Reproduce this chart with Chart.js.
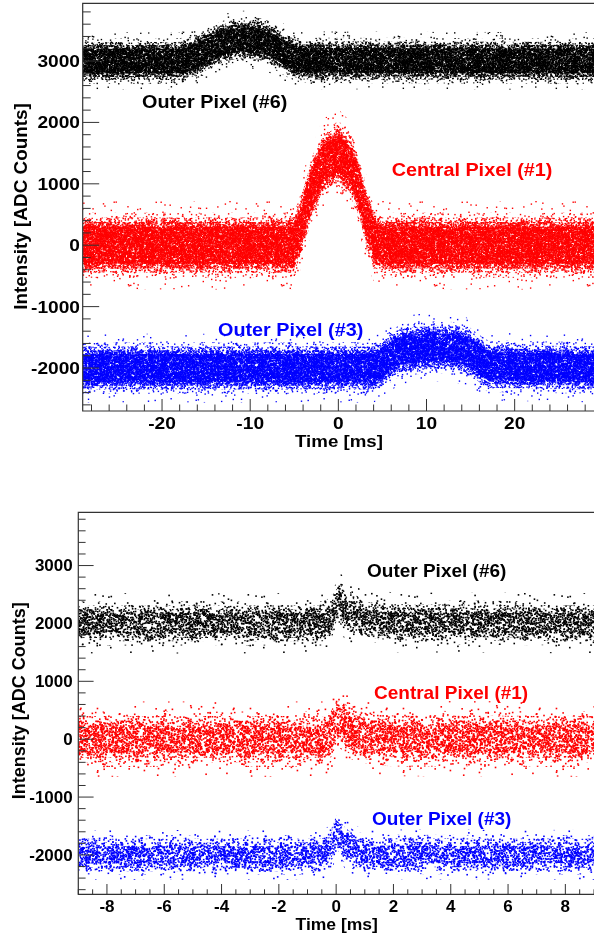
<!DOCTYPE html>
<html>
<head>
<meta charset="utf-8">
<script src="https://cdn.jsdelivr.net/npm/chart.js@4.4.1/dist/chart.umd.min.js"></script>
<style>
  html, body { margin: 0; padding: 0; background: #fff; overflow: hidden; }
  canvas { display: block; }
</style>
</head>
<body>
<canvas id="Top_Chart" width="594" height="467"></canvas>
<canvas id="Bottom_Chart" width="594" height="467"></canvas>
<script>
// ---- long window, time in ms, intensity in ADC counts (band centre per trace) ----
const Top_Time_6 = [-29, -18, -17, -16, -15, -14, -13, -12, -11, -10, -9, -8, -7, -6, -5, -4, 29];
const Top_Level_6 = [3000, 3000, 3030, 3090, 3160, 3230, 3290, 3330, 3350, 3350, 3330, 3290, 3210, 3120, 3050, 3010, 3000];
const Top_Time_1 = [-29, -5, -4.4, -3.3, -1.8, -0.5, 0, 0.5, 1.5, 2.5, 3.2, 4.2, 5, 29];
const Top_Level_1 = [0, 0, 250, 800, 1330, 1440, 1500, 1420, 1280, 850, 400, 80, 0, 0];
const Top_Time_3 = [-29, 4, 5, 6, 7, 9, 11, 13, 14, 15, 16, 17, 29];
const Top_Level_3 = [-2000, -2000, -1930, -1800, -1720, -1680, -1660, -1670, -1700, -1770, -1880, -1970, -2000];
// half widths of the nested speckle layers, densest first
const Top_Spread_6 = [200, 260, 310, 370, 470];
const Top_Spread_1 = [300, 380, 450, 530, 720];
const Top_Spread_3 = [230, 290, 350, 420, 560];

// ---- short window ----
const Bot_Time_6 = [-9, -0.4, -0.2, 0, 0.1, 0.2, 0.4, 0.7, 1.2, 2, 9];
const Bot_Level_6 = [2000, 2000, 2080, 2330, 2400, 2320, 2190, 2100, 2050, 2020, 2000];
const Bot_Time_1 = [-9, -0.4, -0.2, 0, 0.1, 0.2, 0.4, 0.7, 1.2, 2, 9];
const Bot_Level_1 = [0, 0, 60, 280, 350, 280, 170, 90, 40, 10, 0];
const Bot_Time_3 = [-9, -0.5, -0.3, -0.1, 0, 0.1, 0.3, 0.5, 0.8, 1.2, 9];
const Bot_Level_3 = [-2000, -2000, -1950, -1760, -1600, -1670, -1800, -1880, -1950, -1990, -2000];
const Bot_Spread_6 = [170, 250, 310, 380, 520];
const Bot_Spread_1 = [230, 320, 400, 480, 650];
const Bot_Spread_3 = [150, 220, 280, 340, 430];

// speckle density of each layer
const Top_Coverage = [0.75, 0.55, 0.3, 0.1, 0.03];
const Bot_Coverage = [0.33, 0.25, 0.15, 0.07, 0.025];

// axis ticks
const Top_X_Ticks = [-20, -10, 0, 10, 20];
const Bot_X_Ticks = [-8, -6, -4, -2, 0, 2, 4, 6, 8];
const Y_Ticks = [-2000, -1000, 0, 1000, 2000, 3000];

const Label_Font = '"Liberation Sans", Arial, Helvetica, sans-serif';

// integer mixer for the speckle texture
function Hash01(N) {
    let H = N | 0;
    H ^= H >>> 16;
    H = Math.imul(H, 0x85ebca6b);
    H ^= H >>> 13;
    H = Math.imul(H, 0xc2b2ae35);
    H ^= H >>> 16;
    return (H >>> 0) / 4294967296;
}

// speckle fill used inside each band; tile size varies per layer so repeats don't line up
function Make_Grain(Color, Coverage, Dot, Seed, K) {
    const W = 97 + K * 14, H = 89 + K * 10;
    const Tile = document.createElement("canvas");
    Tile.width = W; Tile.height = H;
    const C = Tile.getContext("2d");
    C.fillStyle = Color;
    const N = Math.round(-Math.log(1 - Coverage) * W * H / (Dot * Dot));
    const Base = Seed * 100003;
    for (let I = 0; I < N; I++) {
        const X = Hash01(Base + 2 * I) * W;
        const Y = Hash01(Base + 2 * I + 1) * H;
        C.fillRect(X, Y, Dot, Dot);
        if (X + Dot > W) C.fillRect(X - W, Y, Dot, Dot);
        if (Y + Dot > H) C.fillRect(X, Y - H, Dot, Dot);
    }
    return C.createPattern(Tile, "repeat");
}

// one upper/lower pair per layer; the lower line fills up to the upper one
function Band_Sets(Time, Level, Spread, Color, Coverages, Dot, Seed) {
    const Sets = [];
    Spread.forEach(function (Half, K) {
        Sets.push({
            data: Time.map(function (T, I) { return { x: T, y: Level[I] + Half }; }),
            borderWidth: 0, borderColor: "rgba(0,0,0,0)", pointRadius: 0, fill: false
        });
        Sets.push({
            data: Time.map(function (T, I) { return { x: T, y: Level[I] - Half }; }),
            borderWidth: 0, borderColor: "rgba(0,0,0,0)", pointRadius: 0, fill: "-1",
            backgroundColor: Make_Grain(Color, Coverages[K], Dot, Seed + K * 31, K)
        });
    });
    return Sets;
}

function Draw_Text(Ctx, Str, X, Y, O) {
    Ctx.save();
    Ctx.translate(X, Y);
    if (O.rot) Ctx.rotate(O.rot);
    Ctx.scale(O.sx || 1, 1);
    Ctx.font = "bold " + O.size + "px " + Label_Font;
    Ctx.textAlign = O.align || "left";
    Ctx.textBaseline = "alphabetic";
    Ctx.fillStyle = O.color || "#000";
    Ctx.fillText(Str, 0, 0);
    Ctx.restore();
}

// ROOT-like frame: inward ticks on left and bottom, labels, titles, trace names
const Frame_Plugin = {
    id: "frame",
    afterDraw: function (Chart_Obj, Args, P) {
        const Ctx = Chart_Obj.ctx;
        const A = Chart_Obj.chartArea;
        const Sx = Chart_Obj.scales.x, Sy = Chart_Obj.scales.y;
        Ctx.save();
        Ctx.strokeStyle = "#333";
        Ctx.lineWidth = 1.2;
        Ctx.beginPath();
        Ctx.moveTo(A.right, A.top); Ctx.lineTo(A.left, A.top);
        Ctx.lineTo(A.left, A.bottom); Ctx.lineTo(A.right, A.bottom);
        Ctx.stroke();

        Ctx.lineWidth = 1;
        Ctx.beginPath();
        for (let V = Math.ceil(Sy.min / P.yMinor) * P.yMinor; V <= Sy.max; V += P.yMinor) {
            const Py = Sy.getPixelForValue(V);
            const Len = P.yTicks.indexOf(V) >= 0 ? P.yMajorLen : P.yMinorLen;
            Ctx.moveTo(A.left, Py); Ctx.lineTo(A.left + Len, Py);
        }
        for (let V = Math.ceil(Sx.min / P.xMinor) * P.xMinor; V <= Sx.max + 1e-9; V += P.xMinor) {
            const R = Math.round(V * 1000) / 1000;
            const Px = Sx.getPixelForValue(R);
            const Len = P.xTicks.indexOf(R) >= 0 ? P.xMajorLen : P.xMinorLen;
            Ctx.moveTo(Px, A.bottom); Ctx.lineTo(Px, A.bottom - Len);
        }
        Ctx.stroke();
        Ctx.restore();

        P.yTicks.forEach(function (V) {
            Draw_Text(Ctx, String(V), P.yLabelRight, Sy.getPixelForValue(V) + P.yLabelShift,
                { size: P.tickSize, sx: P.tickSx, align: "right" });
        });
        P.xTicks.forEach(function (V) {
            Draw_Text(Ctx, String(V), Sx.getPixelForValue(V), P.xLabelBase,
                { size: P.tickSize, sx: P.tickSx, align: "center" });
        });
        Draw_Text(Ctx, "Time [ms]", P.xTitle.x, P.xTitle.y,
            { size: P.xTitle.size, sx: P.xTitle.sx, align: "center" });
        Draw_Text(Ctx, "Intensity [ADC Counts]", P.yTitle.x, P.yTitle.y,
            { size: P.yTitle.size, align: "center", rot: -Math.PI / 2 });
        P.notes.forEach(function (N) {
            Draw_Text(Ctx, N.text, N.x, N.y, { size: P.noteSize, sx: P.noteSx, color: N.color });
        });
    }
};

function Make_Config(Sets, Range, Pad, Frame) {
    return {
        type: "line",
        data: { datasets: Sets },
        options: {
            responsive: false,
            animation: false,
            events: [],
            layout: { padding: Pad },
            elements: { line: { tension: 0 } },
            scales: {
                x: { type: "linear", min: Range[0], max: Range[1], display: false },
                y: { type: "linear", min: Range[2], max: Range[3], display: false }
            },
            plugins: {
                legend: { display: false },
                tooltip: { enabled: false },
                filler: { propagate: false },
                frame: Frame
            }
        },
        plugins: [Frame_Plugin]
    };
}

const Top_Sets = [].concat(
    Band_Sets(Top_Time_6, Top_Level_6, Top_Spread_6, "#000000", Top_Coverage, 1.4, 11),
    Band_Sets(Top_Time_1, Top_Level_1, Top_Spread_1, "#ff0000", Top_Coverage, 1.4, 211),
    Band_Sets(Top_Time_3, Top_Level_3, Top_Spread_3, "#0000ff", Top_Coverage, 1.4, 411)
);
const Bot_Sets = [].concat(
    Band_Sets(Bot_Time_6, Bot_Level_6, Bot_Spread_6, "#000000", Bot_Coverage, 1.6, 611),
    Band_Sets(Bot_Time_1, Bot_Level_1, Bot_Spread_1, "#ff0000", Bot_Coverage, 1.6, 811),
    Band_Sets(Bot_Time_3, Bot_Level_3, Bot_Spread_3, "#0000ff", Bot_Coverage, 1.6, 1011)
);

new Chart(document.getElementById("Top_Chart"), Make_Config(
    Top_Sets, [-29, 29, -2700, 3940],
    { left: 82.7, top: 3.3, right: -1.5, bottom: 56 },
    {
        xTicks: Top_X_Ticks, xMinor: 2, yTicks: Y_Ticks, yMinor: 200,
        yMajorLen: 16.5, yMinorLen: 8, xMajorLen: 12, xMinorLen: 6.5,
        tickSize: 16.5, tickSx: 1.16, yLabelRight: 80, yLabelShift: 5.9, xLabelBase: 428.7,
        xTitle: { x: 339, y: 447, size: 17, sx: 1.1 },
        yTitle: { x: 26.7, y: 206.5, size: 18.9 },
        noteSize: 18, noteSx: 1.1,
        notes: [
            { text: "Outer Pixel (#6)", x: 142, y: 107.5, color: "#000000" },
            { text: "Central Pixel (#1)", x: 391.7, y: 176, color: "#ff0000" },
            { text: "Outer Pixel (#3)", x: 218, y: 335.5, color: "#0000ff" }
        ]
    }
));

new Chart(document.getElementById("Bottom_Chart"), Make_Config(
    Bot_Sets, [-9, 9, -2680, 3920],
    { left: 78.3, top: 45.3, right: -1.5, bottom: 39.7 },
    {
        xTicks: Bot_X_Ticks, xMinor: 0.5, yTicks: Y_Ticks, yMinor: 200,
        yMajorLen: 15.3, yMinorLen: 7.3, xMajorLen: 10.3, xMinorLen: 5,
        tickSize: 16.5, tickSx: 1.03, yLabelRight: 72.7, yLabelShift: 5.9, xLabelBase: 445.3,
        xTitle: { x: 336.7, y: 463, size: 17, sx: 1.03 },
        yTitle: { x: 25, y: 233.8, size: 18 },
        noteSize: 19, noteSx: 1.0,
        notes: [
            { text: "Outer Pixel (#6)", x: 367, y: 109.5, color: "#000000" },
            { text: "Central Pixel (#1)", x: 374, y: 232, color: "#ff0000" },
            { text: "Outer Pixel (#3)", x: 372, y: 358, color: "#0000ff" }
        ]
    }
));
</script>
</body>
</html>
